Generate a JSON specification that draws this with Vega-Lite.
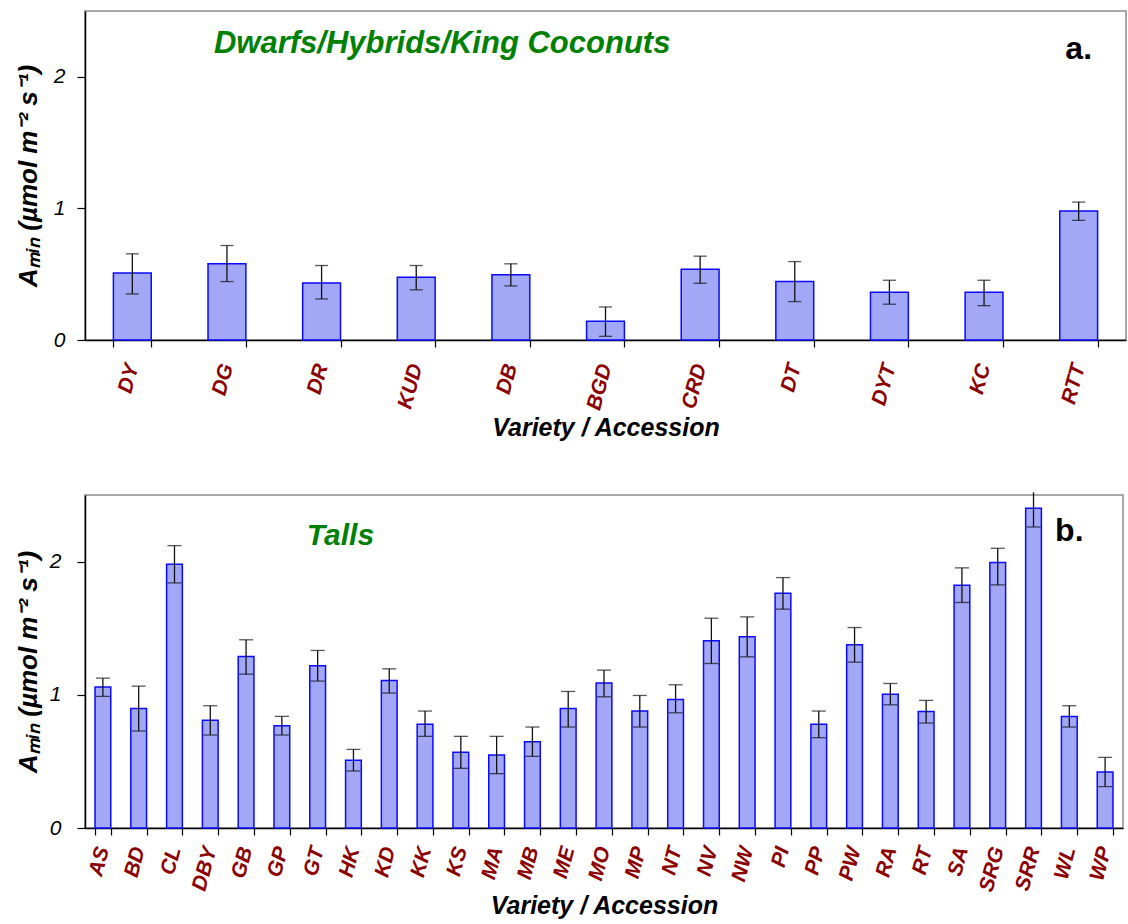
{
  "$schema": "https://vega.github.io/schema/vega-lite/v6.json",
  "padding": {"left": 14, "top": 10, "right": 0, "bottom": 0},
  "spacing": 48,
  "config": {
    "font": "Liberation Sans",
    "view": {"stroke": "#8c8c8c", "strokeWidth": 1.5},
    "axis": {"domainColor": "#000000", "domainWidth": 1.5, "tickColor": "#000000", "tickWidth": 1.2, "grid": false, "labelColor": "#000000", "titleColor": "#000000"}
  },
  "datasets": {
    "dwarfs": [
      {"v": "DY", "a": 0.51, "lo": 0.35, "hi": 0.655},
      {"v": "DG", "a": 0.58, "lo": 0.444, "hi": 0.718},
      {"v": "DR", "a": 0.434, "lo": 0.312, "hi": 0.566},
      {"v": "KUD", "a": 0.477, "lo": 0.381, "hi": 0.566},
      {"v": "DB", "a": 0.495, "lo": 0.411, "hi": 0.579},
      {"v": "BGD", "a": 0.142, "lo": 0.028, "hi": 0.251},
      {"v": "CRD", "a": 0.538, "lo": 0.431, "hi": 0.637},
      {"v": "DT", "a": 0.444, "lo": 0.292, "hi": 0.596},
      {"v": "DYT", "a": 0.363, "lo": 0.272, "hi": 0.454},
      {"v": "KC", "a": 0.363, "lo": 0.261, "hi": 0.454},
      {"v": "RTT", "a": 0.98, "lo": 0.909, "hi": 1.048}
    ],
    "talls": [
      {"v": "AS", "a": 1.058, "lo": 0.988, "hi": 1.125},
      {"v": "BD", "a": 0.898, "lo": 0.728, "hi": 1.065},
      {"v": "CL", "a": 1.98, "lo": 1.84, "hi": 2.12},
      {"v": "DBY", "a": 0.808, "lo": 0.698, "hi": 0.918},
      {"v": "GB", "a": 1.288, "lo": 1.155, "hi": 1.413},
      {"v": "GP", "a": 0.768, "lo": 0.698, "hi": 0.838},
      {"v": "GT", "a": 1.218, "lo": 1.103, "hi": 1.333},
      {"v": "HK", "a": 0.508, "lo": 0.428, "hi": 0.59},
      {"v": "KD", "a": 1.108, "lo": 1.013, "hi": 1.195},
      {"v": "KK", "a": 0.778, "lo": 0.688, "hi": 0.878},
      {"v": "KS", "a": 0.568, "lo": 0.448, "hi": 0.688},
      {"v": "MA", "a": 0.548, "lo": 0.408, "hi": 0.688},
      {"v": "MB", "a": 0.648, "lo": 0.538, "hi": 0.758},
      {"v": "ME", "a": 0.898, "lo": 0.758, "hi": 1.025},
      {"v": "MO", "a": 1.088, "lo": 0.985, "hi": 1.185},
      {"v": "MP", "a": 0.878, "lo": 0.758, "hi": 0.995},
      {"v": "NT", "a": 0.965, "lo": 0.865, "hi": 1.075},
      {"v": "NV", "a": 1.405, "lo": 1.235, "hi": 1.575},
      {"v": "NW", "a": 1.435, "lo": 1.285, "hi": 1.585},
      {"v": "PI", "a": 1.763, "lo": 1.643, "hi": 1.88},
      {"v": "PP", "a": 0.778, "lo": 0.678, "hi": 0.878},
      {"v": "PW", "a": 1.375, "lo": 1.245, "hi": 1.505},
      {"v": "RA", "a": 1.005, "lo": 0.925, "hi": 1.085},
      {"v": "RT", "a": 0.875, "lo": 0.788, "hi": 0.958},
      {"v": "SA", "a": 1.823, "lo": 1.693, "hi": 1.953},
      {"v": "SRG", "a": 1.993, "lo": 1.825, "hi": 2.1},
      {"v": "SRR", "a": 2.4, "lo": 2.26, "hi": 2.52},
      {"v": "WL", "a": 0.838, "lo": 0.758, "hi": 0.918},
      {"v": "WP", "a": 0.42, "lo": 0.31, "hi": 0.53}
    ]
  },
  "vconcat": [
    {
      "width": 1041,
      "height": 329,
      "data": {"name": "dwarfs"},
      "encoding": {
        "x": {
          "field": "v", "type": "nominal", "sort": null,
          "scale": {"paddingInner": 0.6, "paddingOuter": 0.3},
          "axis": {
            "title": "Variety / Accession", "titleFontSize": 25, "titleFontWeight": "bold", "titleFontStyle": "italic", "titlePadding": 4,
            "labelAngle": -75, "labelFontSize": 21, "labelFontWeight": "bold", "labelFontStyle": "italic", "labelColor": "#8b0000",
            "labelAlign": "right", "labelBaseline": "middle", "labelPadding": 17, "tickBand": "extent", "tickSize": 7
          }
        }
      },
      "layer": [
        {
          "mark": {"type": "bar", "fill": "#a2a8f5", "stroke": "#0a0aff", "strokeWidth": 1.5},
          "encoding": {
            "y": {
              "field": "a", "type": "quantitative", "scale": {"domain": [0, 2.5], "nice": false},
              "axis": {
                "values": [0, 1, 2], "format": "d", "labelFontSize": 21, "labelFontStyle": "italic", "labelPadding": 12, "tickSize": 8,
                "title": "Aₘᵢₙ  (µmol m⁻² s⁻¹)", "titleFontSize": 26, "titleFontStyle": "italic", "titleFontWeight": "bold", "titlePadding": 12
              }
            }
          }
        },
        {
          "mark": {"type": "rule", "color": "#111111", "strokeWidth": 1.3},
          "encoding": {"y": {"field": "lo", "type": "quantitative"}, "y2": {"field": "hi"}}
        },
        {
          "mark": {"type": "tick", "color": "#111111", "thickness": 1.3, "size": 13},
          "encoding": {"y": {"field": "lo", "type": "quantitative"}}
        },
        {
          "transform": [{"filter": "datum.hi <= 2.5"}],
          "mark": {"type": "tick", "color": "#111111", "thickness": 1.3, "size": 13},
          "encoding": {"y": {"field": "hi", "type": "quantitative"}}
        },
        {
          "data": {"values": [{"t": "Dwarfs/Hybrids/King Coconuts"}]},
          "mark": {"type": "text", "color": "#008000", "fontSize": 31, "fontWeight": "bold", "fontStyle": "italic", "align": "left", "baseline": "alphabetic", "dx": -13},
          "encoding": {"x": {"datum": "DG"}, "y": {"datum": 2.18}, "text": {"field": "t"}}
        },
        {
          "data": {"values": [{"t": "a."}]},
          "mark": {"type": "text", "color": "#000000", "fontSize": 32, "fontWeight": "bold", "align": "center", "baseline": "alphabetic"},
          "encoding": {"x": {"datum": "RTT"}, "y": {"datum": 2.135}, "text": {"field": "t"}}
        }
      ]
    },
    {
      "width": 1038,
      "height": 333,
      "data": {"name": "talls"},
      "encoding": {
        "x": {
          "field": "v", "type": "nominal", "sort": null,
          "scale": {"paddingInner": 0.56, "paddingOuter": 0.28},
          "axis": {
            "title": "Variety / Accession", "titleFontSize": 25, "titleFontWeight": "bold", "titleFontStyle": "italic", "titlePadding": 0,
            "labelAngle": -75, "labelFontSize": 21, "labelFontWeight": "bold", "labelFontStyle": "italic", "labelColor": "#8b0000",
            "labelAlign": "right", "labelBaseline": "middle", "labelPadding": 12, "tickBand": "extent", "tickSize": 7
          }
        }
      },
      "layer": [
        {
          "mark": {"type": "bar", "fill": "#a2a8f5", "stroke": "#0a0aff", "strokeWidth": 1.5},
          "encoding": {
            "y": {
              "field": "a", "type": "quantitative", "scale": {"domain": [0, 2.5], "nice": false},
              "axis": {
                "values": [0, 1, 2], "format": "d", "labelFontSize": 21, "labelFontStyle": "italic", "labelPadding": 16, "tickSize": 8,
                "title": "Aₘᵢₙ  (µmol m⁻² s⁻¹)", "titleFontSize": 26, "titleFontStyle": "italic", "titleFontWeight": "bold", "titlePadding": 8
              }
            }
          }
        },
        {
          "mark": {"type": "rule", "color": "#111111", "strokeWidth": 1.3},
          "encoding": {"y": {"field": "lo", "type": "quantitative"}, "y2": {"field": "hi"}}
        },
        {
          "mark": {"type": "tick", "color": "#111111", "thickness": 1.3, "size": 14},
          "encoding": {"y": {"field": "lo", "type": "quantitative"}}
        },
        {
          "transform": [{"filter": "datum.hi <= 2.5"}],
          "mark": {"type": "tick", "color": "#111111", "thickness": 1.3, "size": 14},
          "encoding": {"y": {"field": "hi", "type": "quantitative"}}
        },
        {
          "data": {"values": [{"t": "Talls"}]},
          "mark": {"type": "text", "color": "#008000", "fontSize": 30, "fontWeight": "bold", "fontStyle": "italic", "align": "center", "baseline": "alphabetic", "dx": -13},
          "encoding": {"x": {"datum": "HK"}, "y": {"datum": 2.125}, "text": {"field": "t"}}
        },
        {
          "data": {"values": [{"t": "b."}]},
          "mark": {"type": "text", "color": "#000000", "fontSize": 32, "fontWeight": "bold", "align": "center", "baseline": "alphabetic"},
          "encoding": {"x": {"datum": "WL"}, "y": {"datum": 2.155}, "text": {"field": "t"}}
        }
      ]
    }
  ]
}
